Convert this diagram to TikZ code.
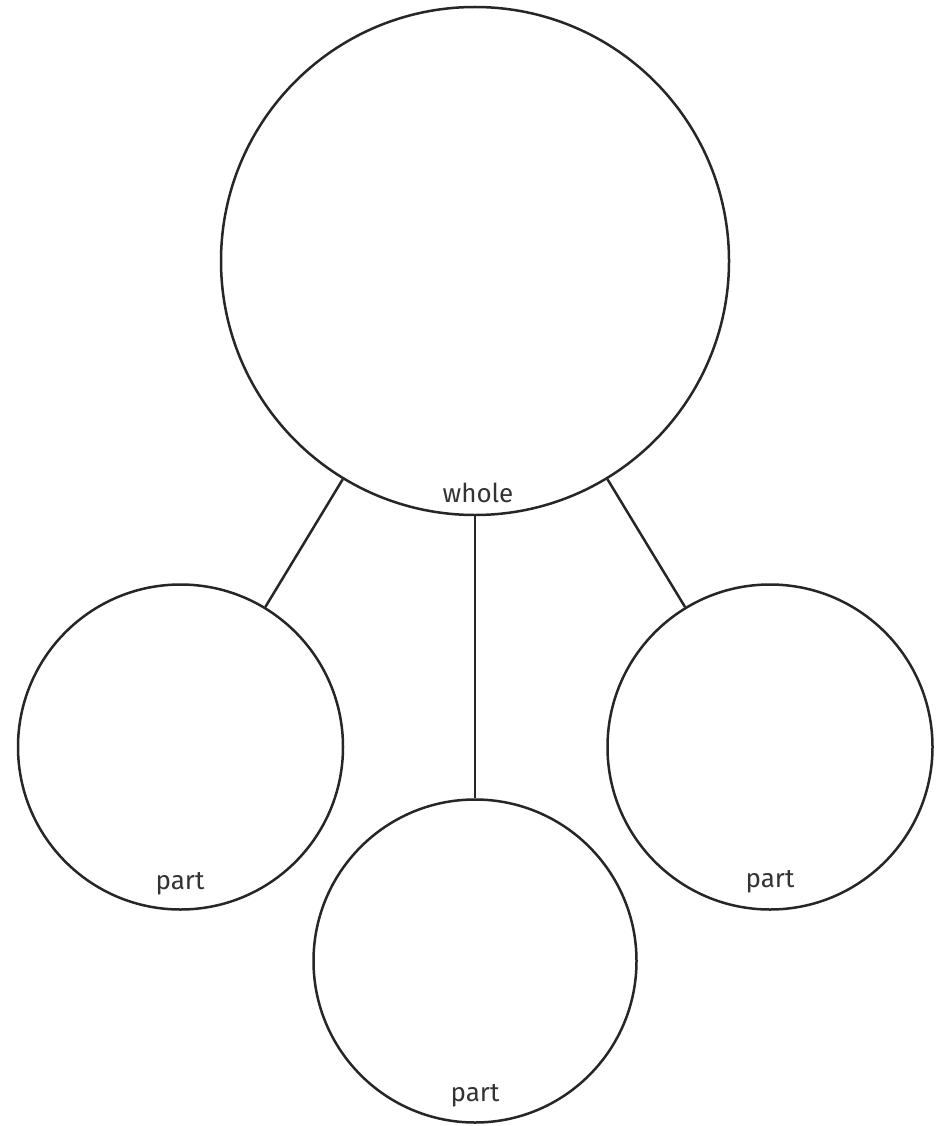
\documentclass[tikz,border=0pt]{standalone}
\usepackage{fontspec}
\setmainfont{Fira Sans}
\begin{document}
\begin{tikzpicture}[x=1pt,y=-1pt,
  ring/.style={circle,draw=black!85,line width=2.5pt,inner sep=0pt},
  link/.style={draw=black!85,line width=2.5pt},
  lbl/.style={text=black!80,font=\fontsize{26}{30}\selectfont,inner sep=0pt}]
\useasboundingbox (0,0) rectangle (944,1126);
\node[ring,minimum size=508pt] (whole) at (475,261) {};
\node[ring,minimum size=325pt] (left) at (180.5,747) {};
\node[ring,minimum size=325pt] (right) at (770,747) {};
\node[ring,minimum size=323pt] (bottom) at (475,961) {};
\draw[link] (whole) -- (left);
\draw[link] (whole) -- (right);
\draw[link] (whole.south) -- (bottom.north);
\node[lbl] (twhole) at (478,493) {whole};
\node[lbl] (tleft) at (180,884) {part};
\node[lbl] (tright) at (770,882) {part};
\node[lbl] (tbottom) at (475,1096) {part};
\end{tikzpicture}
\end{document}
